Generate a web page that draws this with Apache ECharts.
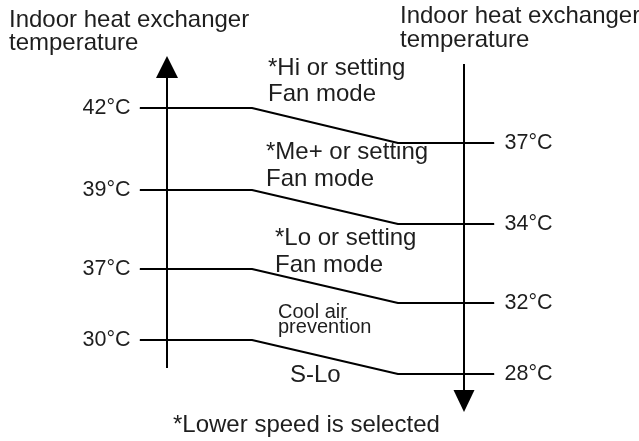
<!DOCTYPE html>
<html>
<head>
<meta charset="utf-8">
<script src="https://cdn.jsdelivr.net/npm/echarts@6/dist/echarts.min.js"></script>
<style>
  html, body { margin: 0; padding: 0; background: #fff; }
  #main { width: 639px; height: 441px; }
</style>
</head>
<body>
<div id="main"></div>
<script>
// switch-on thresholds (left axis) and switch-off thresholds (right axis)
const leftTemps = ['42°C', '39°C', '37°C', '30°C'];
const rightTemps = ['37°C', '34°C', '32°C', '28°C'];
// where each threshold sits on the (schematic, not to scale) temperature axis
const leftLevel = [108, 190, 269, 340];
const rightLevel = [143, 224, 303, 374];
const fanModes = [
  '*Hi or setting\nFan mode',
  '*Me+ or setting\nFan mode',
  '*Lo or setting\nFan mode',
  'Cool air\nprevention'
];
const lowestMode = 'S-Lo';
const axisTitle = 'Indoor heat exchanger\ntemperature';
const footNote = '*Lower speed is selected';

const FONT = '"Liberation Sans", Arial, sans-serif';
const TEXT_COLOR = '#1e1e1e';

// layout of the diagram (in axis units)
const X_START = 140, X_BEND0 = 252, X_BEND1 = 398, X_END = 494;
const LEFT_AXIS_X = 167, RIGHT_AXIS_X = 464;

const chart = echarts.init(document.getElementById('main'));

const labelStyle = { show: true, color: TEXT_COLOR, fontSize: 21.5, fontFamily: FONT };

const stepSeries = leftLevel.map((l, i) => ({
  type: 'line',
  silent: true,
  symbol: 'none',
  itemStyle: { color: '#000' },
  lineStyle: { color: '#000', width: 2 },
  data: [
    { value: [X_START, l], symbol: 'circle', symbolSize: 1,
      label: Object.assign({ position: 'left', distance: 9, formatter: leftTemps[i] }, labelStyle) },
    [X_BEND0, l],
    [X_BEND1, rightLevel[i]],
    { value: [X_END, rightLevel[i]], symbol: 'circle', symbolSize: 1,
      label: Object.assign({ position: 'right', distance: 10, formatter: rightTemps[i] }, labelStyle) }
  ]
}));

const axisSeries = [
  {
    type: 'line', silent: true, symbol: 'none',
    itemStyle: { color: '#000' },
    lineStyle: { color: '#000', width: 2 },
    data: [[LEFT_AXIS_X, 368], { value: [LEFT_AXIS_X, 67], symbol: 'triangle', symbolSize: [22, 22] }]
  },
  {
    type: 'line', silent: true, symbol: 'none',
    itemStyle: { color: '#000' },
    lineStyle: { color: '#000', width: 2 },
    data: [[RIGHT_AXIS_X, 64], { value: [RIGHT_AXIS_X, 401], symbol: 'triangle', symbolSize: [21, 22], symbolRotate: 180 }]
  }
];

function txt(text, x, y, size, lineHeight) {
  return {
    type: 'text', x: x, y: y, silent: true,
    style: {
      text: text, fill: TEXT_COLOR,
      font: size + 'px ' + FONT,
      lineHeight: lineHeight || size,
      textAlign: 'left', align: 'left',
      textVerticalAlign: 'top', verticalAlign: 'top'
    }
  };
}

const modePos = [[268, 55, 26], [266, 138.5, 27], [275, 224.5, 27]];

const option = {
  animation: false,
  grid: { left: 0, right: 0, top: 0, bottom: 0 },
  xAxis: { type: 'value', min: 0, max: 639, show: false },
  yAxis: { type: 'value', min: 0, max: 441, inverse: true, show: false },
  series: stepSeries.concat(axisSeries),
  graphic: [
    txt(axisTitle, 9, 9, 24, 23),
    txt(axisTitle, 400, 4.5, 24, 24),
    ...modePos.map((p, i) => txt(fanModes[i], p[0], p[1], 24, p[2])),
    txt(fanModes[3], 278, 304.5, 20, 15),
    txt(lowestMode, 290, 363, 24),
    txt(footNote, 173, 413, 24)
  ]
};

chart.setOption(option);
</script>
</body>
</html>
